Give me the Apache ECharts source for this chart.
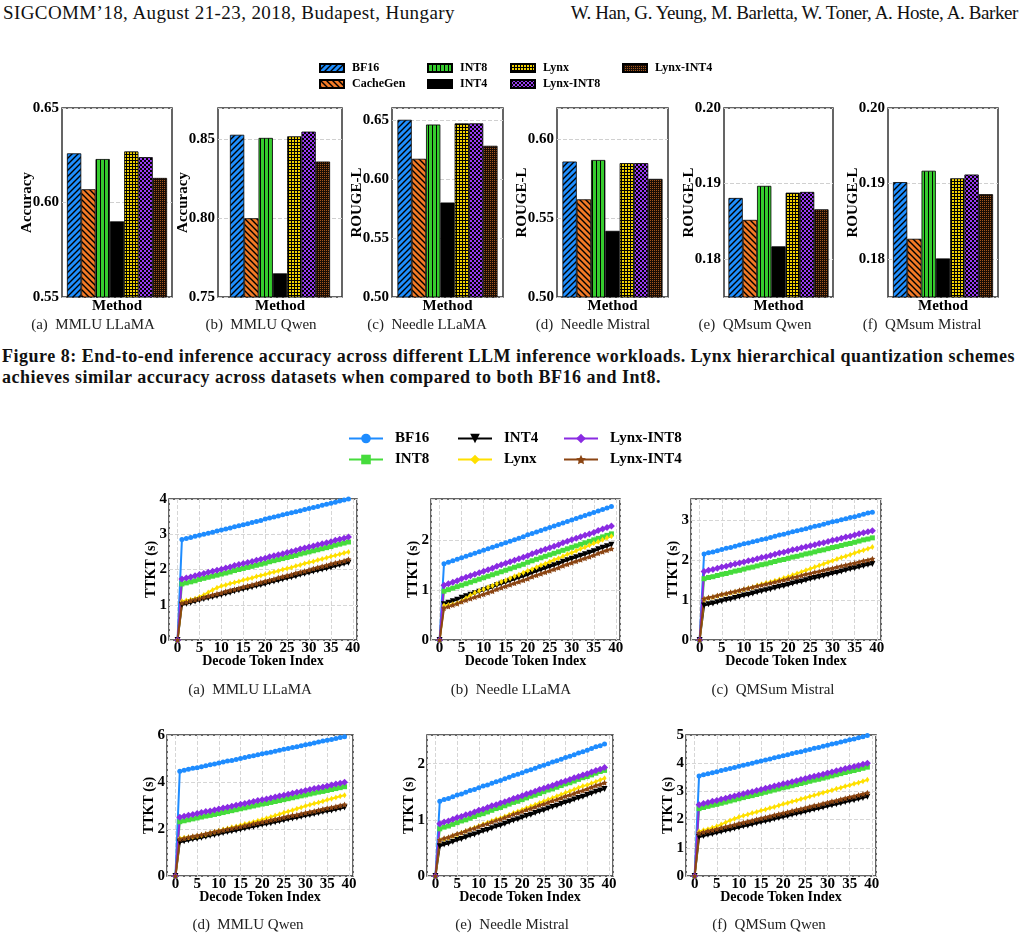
<!DOCTYPE html>
<html>
<head>
<meta charset="utf-8">
<script src="https://cdn.jsdelivr.net/npm/echarts@6/dist/echarts.min.js"></script>
<style>
body { margin: 0; background: #fff; }
#page { position: relative; width: 1022px; height: 941px; overflow: hidden; font-family: 'Liberation Serif', 'Times New Roman', serif; color: #111; }
.hdr { position: absolute; top: 2px; font-size: 19px; white-space: nowrap; }
#caption { position: absolute; left: 2px; top: 346px; font-weight: bold; font-size: 18px; letter-spacing: 0.5px; line-height: 21px; white-space: nowrap; }
#barChart { position: absolute; left: 0; top: 40px; width: 1022px; height: 300px; }
#lineChart { position: absolute; left: 0; top: 415px; width: 1022px; height: 526px; }
</style>
</head>
<body>
<div id="page">
  <div class="hdr" style="left:3px; letter-spacing:0.4px">SIGCOMM’18, August 21-23, 2018, Budapest, Hungary</div>
  <div class="hdr" style="right:4px; letter-spacing:-0.4px">W. Han, G. Yeung, M. Barletta, W. Toner, A. Hoste, A. Barker</div>
  <div id="barChart"></div>
  <div id="caption">Figure 8: End-to-end inference accuracy across different LLM inference workloads. Lynx hierarchical quantization schemes<br>achieves similar accuracy across datasets when compared to both BF16 and Int8.</div>
  <div id="lineChart"></div>
</div>
<script>
const BAR_TOP = 40, LINE_TOP = 415;
const serif = 'Liberation Serif';

// ---------- Figure 8 data (bar panels) ----------
const methods = ['BF16', 'CacheGen', 'INT8', 'INT4', 'Lynx', 'Lynx-INT8', 'Lynx-INT4'];
const accMmluLlama = [0.626, 0.607, 0.623, 0.590, 0.627, 0.624, 0.613];
const accMmluQwen = [0.853, 0.800, 0.851, 0.765, 0.852, 0.855, 0.836];
const rougeNeedleLlama = [0.650, 0.617, 0.646, 0.580, 0.647, 0.647, 0.628];
const rougeNeedleMistral = [0.586, 0.562, 0.587, 0.542, 0.585, 0.585, 0.575];
const rougeQmsumQwen = [0.1881, 0.1852, 0.1897, 0.1817, 0.1888, 0.1889, 0.1866];
const rougeQmsumMistral = [0.1902, 0.1827, 0.1917, 0.1801, 0.1907, 0.1912, 0.1886];
const barCaptions = ['(a)  MMLU LLaMA', '(b)  MMLU Qwen', '(c)  Needle LLaMA', '(d)  Needle Mistral', '(e)  QMsum Qwen', '(f)  QMsum Mistral'];

// ---------- TTKT data (line panels) ----------
const tokenIdx = [0,1,2,3,4,5,6,7,8,9,10,11,12,13,14,15,16,17,18,19,20,21,22,23,24,25,26,27,28,29,30,31,32,33,34,35,36,37,38,39];
const xTicks = [0, 5, 10, 15, 20, 25, 30, 35, 40];
const lineNames = ['BF16', 'INT8', 'INT4', 'Lynx', 'Lynx-INT8', 'Lynx-INT4'];

const mmluLlamaBF16 = [0,2.85,2.88,2.91,2.94,2.97,3.00,3.03,3.06,3.09,3.12,3.15,3.18,3.21,3.24,3.27,3.30,3.33,3.36,3.39,3.43,3.46,3.49,3.52,3.55,3.58,3.61,3.64,3.67,3.70,3.73,3.76,3.79,3.82,3.85,3.88,3.91,3.94,3.97,4.00];
const mmluLlamaINT8 = [0,1.59,1.62,1.65,1.68,1.72,1.75,1.78,1.81,1.84,1.87,1.90,1.93,1.97,2.00,2.03,2.06,2.09,2.12,2.15,2.18,2.22,2.25,2.28,2.31,2.34,2.37,2.40,2.44,2.47,2.50,2.53,2.56,2.59,2.62,2.65,2.69,2.72,2.75,2.78];
const mmluLlamaINT4 = [0,1.00,1.03,1.06,1.09,1.13,1.16,1.19,1.22,1.25,1.28,1.31,1.34,1.38,1.41,1.44,1.47,1.50,1.53,1.56,1.59,1.63,1.66,1.69,1.72,1.75,1.78,1.81,1.85,1.88,1.91,1.94,1.97,2.00,2.03,2.06,2.10,2.13,2.16,2.19];
const mmluLlamaLynx = [0,1.10,1.12,1.14,1.17,1.22,1.28,1.35,1.42,1.48,1.53,1.56,1.60,1.63,1.66,1.70,1.73,1.76,1.80,1.83,1.86,1.90,1.93,1.96,2.00,2.03,2.06,2.10,2.13,2.17,2.20,2.23,2.27,2.30,2.33,2.37,2.40,2.43,2.47,2.50];
const mmluLlamaLynxINT8 = [0,1.73,1.76,1.79,1.82,1.86,1.89,1.92,1.95,1.98,2.01,2.04,2.07,2.11,2.14,2.17,2.20,2.23,2.26,2.29,2.32,2.36,2.39,2.42,2.45,2.48,2.51,2.54,2.58,2.61,2.64,2.67,2.70,2.73,2.76,2.79,2.83,2.86,2.89,2.92];
const mmluLlamaLynxINT4 = [0,1.05,1.08,1.12,1.15,1.18,1.21,1.25,1.28,1.31,1.34,1.38,1.41,1.44,1.47,1.51,1.54,1.57,1.60,1.64,1.67,1.70,1.73,1.77,1.80,1.83,1.86,1.90,1.93,1.96,1.99,2.03,2.06,2.09,2.12,2.16,2.19,2.22,2.25,2.29];

const needleLlamaBF16 = [0,1.53,1.56,1.59,1.62,1.65,1.68,1.71,1.74,1.77,1.80,1.83,1.86,1.89,1.92,1.95,1.98,2.01,2.04,2.07,2.11,2.14,2.17,2.20,2.23,2.26,2.29,2.32,2.35,2.38,2.41,2.44,2.47,2.50,2.53,2.56,2.59,2.62,2.65,2.68];
const needleLlamaINT8 = [0,0.98,1.01,1.04,1.07,1.10,1.13,1.16,1.19,1.22,1.25,1.28,1.31,1.34,1.37,1.40,1.43,1.46,1.49,1.52,1.56,1.59,1.62,1.65,1.68,1.71,1.74,1.77,1.80,1.83,1.86,1.89,1.92,1.95,1.98,2.01,2.04,2.07,2.10,2.13];
const needleLlamaINT4 = [0,0.72,0.75,0.78,0.81,0.85,0.88,0.91,0.94,0.97,1.00,1.03,1.06,1.10,1.13,1.16,1.19,1.22,1.25,1.28,1.31,1.35,1.38,1.41,1.44,1.47,1.50,1.53,1.57,1.60,1.63,1.66,1.69,1.72,1.75,1.78,1.82,1.85,1.88,1.91];
const needleLlamaLynx = [0,0.69,0.70,0.72,0.74,0.78,0.84,0.90,0.95,0.99,1.02,1.06,1.09,1.13,1.17,1.20,1.24,1.28,1.31,1.35,1.39,1.42,1.46,1.50,1.53,1.57,1.61,1.64,1.68,1.72,1.75,1.79,1.83,1.86,1.90,1.94,1.97,2.01,2.05,2.08];
const needleLlamaLynxINT8 = [0,1.10,1.13,1.16,1.19,1.23,1.26,1.29,1.32,1.35,1.38,1.41,1.44,1.48,1.51,1.54,1.57,1.60,1.63,1.66,1.69,1.73,1.76,1.79,1.82,1.85,1.88,1.91,1.95,1.98,2.01,2.04,2.07,2.10,2.13,2.16,2.20,2.23,2.26,2.29];
const needleLlamaLynxINT4 = [0,0.64,0.67,0.70,0.73,0.77,0.80,0.83,0.86,0.89,0.92,0.95,0.98,1.02,1.05,1.08,1.11,1.14,1.17,1.20,1.23,1.27,1.30,1.33,1.36,1.39,1.42,1.45,1.49,1.52,1.55,1.58,1.61,1.64,1.67,1.70,1.74,1.77,1.80,1.83];

const qmsumMistralBF16 = [0,2.15,2.18,2.20,2.23,2.26,2.29,2.31,2.34,2.37,2.40,2.42,2.45,2.48,2.51,2.53,2.56,2.59,2.62,2.64,2.67,2.70,2.73,2.75,2.78,2.81,2.84,2.86,2.89,2.92,2.95,2.97,3.00,3.03,3.06,3.08,3.11,3.14,3.17,3.19];
const qmsumMistralINT8 = [0,1.53,1.56,1.58,1.61,1.64,1.66,1.69,1.72,1.74,1.77,1.80,1.82,1.85,1.88,1.90,1.93,1.96,1.99,2.01,2.04,2.07,2.09,2.12,2.15,2.17,2.20,2.23,2.25,2.28,2.31,2.33,2.36,2.39,2.41,2.44,2.47,2.50,2.52,2.55];
const qmsumMistralINT4 = [0,0.86,0.89,0.91,0.94,0.97,1.00,1.02,1.05,1.08,1.11,1.13,1.16,1.19,1.22,1.24,1.27,1.30,1.33,1.35,1.38,1.41,1.44,1.46,1.49,1.52,1.55,1.57,1.60,1.63,1.66,1.68,1.71,1.74,1.77,1.79,1.82,1.85,1.88,1.90];
const qmsumMistralLynx = [0,1.02,1.05,1.07,1.10,1.13,1.15,1.18,1.20,1.23,1.26,1.29,1.32,1.36,1.39,1.42,1.45,1.48,1.51,1.55,1.58,1.62,1.66,1.70,1.74,1.78,1.82,1.86,1.90,1.94,1.98,2.02,2.06,2.09,2.13,2.17,2.21,2.24,2.28,2.32];
const qmsumMistralLynxINT8 = [0,1.71,1.74,1.76,1.79,1.82,1.84,1.87,1.90,1.92,1.95,1.98,2.00,2.03,2.06,2.08,2.11,2.14,2.17,2.19,2.22,2.25,2.27,2.30,2.33,2.35,2.38,2.41,2.43,2.46,2.49,2.51,2.54,2.57,2.59,2.62,2.65,2.68,2.70,2.73];
const qmsumMistralLynxINT4 = [0,1.03,1.06,1.08,1.11,1.14,1.16,1.19,1.21,1.24,1.27,1.29,1.32,1.35,1.37,1.40,1.42,1.45,1.48,1.50,1.53,1.56,1.58,1.61,1.64,1.66,1.69,1.71,1.74,1.77,1.79,1.82,1.85,1.87,1.90,1.92,1.95,1.98,2.00,2.03];

const mmluQwenBF16 = [0,4.46,4.50,4.54,4.58,4.61,4.65,4.69,4.73,4.77,4.81,4.85,4.89,4.92,4.96,5.00,5.04,5.08,5.12,5.16,5.20,5.23,5.27,5.31,5.35,5.39,5.43,5.47,5.50,5.54,5.58,5.62,5.66,5.70,5.74,5.78,5.81,5.85,5.89,5.93];
const mmluQwenINT8 = [0,2.31,2.35,2.39,2.43,2.47,2.51,2.55,2.58,2.62,2.66,2.70,2.74,2.78,2.82,2.86,2.90,2.94,2.98,3.02,3.06,3.09,3.13,3.17,3.21,3.25,3.29,3.33,3.37,3.41,3.45,3.49,3.53,3.57,3.60,3.64,3.68,3.72,3.76,3.80];
const mmluQwenINT4 = [0,1.44,1.48,1.52,1.56,1.59,1.63,1.67,1.71,1.75,1.79,1.83,1.87,1.90,1.94,1.98,2.02,2.06,2.10,2.14,2.18,2.21,2.25,2.29,2.33,2.37,2.41,2.45,2.48,2.52,2.56,2.60,2.64,2.68,2.72,2.76,2.79,2.83,2.87,2.91];
const mmluQwenLynx = [0,1.61,1.63,1.65,1.67,1.70,1.74,1.78,1.83,1.88,1.93,1.98,2.02,2.07,2.11,2.16,2.21,2.25,2.30,2.35,2.40,2.46,2.51,2.57,2.63,2.69,2.75,2.80,2.86,2.92,2.98,3.03,3.08,3.13,3.18,3.24,3.29,3.34,3.39,3.44];
const mmluQwenLynxINT8 = [0,2.50,2.54,2.58,2.62,2.66,2.70,2.74,2.77,2.81,2.85,2.89,2.93,2.97,3.01,3.05,3.09,3.13,3.17,3.21,3.25,3.28,3.32,3.36,3.40,3.44,3.48,3.52,3.56,3.60,3.64,3.68,3.72,3.76,3.79,3.83,3.87,3.91,3.95,3.99];
const mmluQwenLynxINT4 = [0,1.57,1.61,1.65,1.69,1.72,1.76,1.80,1.84,1.88,1.92,1.96,2.00,2.03,2.07,2.11,2.15,2.19,2.23,2.27,2.31,2.34,2.38,2.42,2.46,2.50,2.54,2.58,2.61,2.65,2.69,2.73,2.77,2.81,2.85,2.89,2.92,2.96,3.00,3.04];

const needleMistralBF16 = [0,1.33,1.36,1.38,1.41,1.44,1.46,1.49,1.52,1.54,1.57,1.60,1.62,1.65,1.68,1.70,1.73,1.76,1.79,1.81,1.84,1.87,1.89,1.92,1.95,1.97,2.00,2.03,2.05,2.08,2.11,2.13,2.16,2.19,2.21,2.24,2.27,2.30,2.32,2.35];
const needleMistralINT8 = [0,0.84,0.87,0.89,0.92,0.95,0.98,1.00,1.03,1.06,1.09,1.11,1.14,1.17,1.20,1.22,1.25,1.28,1.31,1.33,1.36,1.39,1.42,1.44,1.47,1.50,1.53,1.55,1.58,1.61,1.64,1.66,1.69,1.72,1.75,1.77,1.80,1.83,1.86,1.88];
const needleMistralINT4 = [0,0.53,0.56,0.58,0.61,0.64,0.66,0.69,0.72,0.74,0.77,0.80,0.82,0.85,0.88,0.90,0.93,0.96,0.99,1.01,1.04,1.07,1.09,1.12,1.15,1.17,1.20,1.23,1.25,1.28,1.31,1.33,1.36,1.39,1.41,1.44,1.47,1.50,1.52,1.55];
const needleMistralLynx = [0,0.64,0.66,0.68,0.71,0.74,0.77,0.80,0.83,0.86,0.89,0.92,0.95,0.98,1.01,1.03,1.06,1.09,1.12,1.15,1.18,1.21,1.24,1.27,1.30,1.33,1.36,1.39,1.42,1.45,1.48,1.51,1.54,1.57,1.60,1.62,1.65,1.68,1.71,1.74];
const needleMistralLynxINT8 = [0,0.93,0.96,0.98,1.01,1.04,1.06,1.09,1.11,1.14,1.17,1.19,1.22,1.25,1.27,1.30,1.32,1.35,1.38,1.40,1.43,1.46,1.48,1.51,1.54,1.56,1.59,1.61,1.64,1.67,1.69,1.72,1.75,1.77,1.80,1.82,1.85,1.88,1.90,1.93];
const needleMistralLynxINT4 = [0,0.64,0.67,0.69,0.72,0.75,0.77,0.80,0.83,0.85,0.88,0.91,0.93,0.96,0.99,1.01,1.04,1.07,1.10,1.12,1.15,1.18,1.20,1.23,1.26,1.28,1.31,1.34,1.36,1.39,1.42,1.44,1.47,1.50,1.52,1.55,1.58,1.61,1.63,1.66];

const qmsumQwenBF16 = [0,3.55,3.59,3.63,3.66,3.70,3.74,3.78,3.81,3.85,3.89,3.93,3.96,4.00,4.04,4.08,4.11,4.15,4.19,4.23,4.26,4.30,4.34,4.38,4.41,4.45,4.49,4.53,4.56,4.60,4.64,4.68,4.71,4.75,4.79,4.83,4.86,4.90,4.94,4.98];
const qmsumQwenINT8 = [0,2.39,2.43,2.47,2.51,2.54,2.58,2.62,2.66,2.70,2.74,2.78,2.82,2.85,2.89,2.93,2.97,3.01,3.05,3.09,3.13,3.16,3.20,3.24,3.28,3.32,3.36,3.40,3.43,3.47,3.51,3.55,3.59,3.63,3.67,3.71,3.74,3.78,3.82,3.86];
const qmsumQwenINT4 = [0,1.38,1.42,1.46,1.49,1.53,1.57,1.61,1.64,1.68,1.72,1.76,1.79,1.83,1.87,1.91,1.94,1.98,2.02,2.06,2.09,2.13,2.17,2.21,2.24,2.28,2.32,2.36,2.39,2.43,2.47,2.51,2.54,2.58,2.62,2.66,2.69,2.73,2.77,2.81];
const qmsumQwenLynx = [0,1.58,1.62,1.66,1.71,1.76,1.83,1.90,1.97,2.03,2.09,2.14,2.18,2.23,2.27,2.32,2.36,2.41,2.45,2.50,2.55,2.59,2.64,2.68,2.73,2.77,2.82,2.86,2.91,2.95,3.00,3.04,3.09,3.13,3.18,3.22,3.27,3.31,3.36,3.41];
const qmsumQwenLynxINT8 = [0,2.53,2.57,2.61,2.65,2.68,2.72,2.76,2.80,2.84,2.88,2.92,2.96,2.99,3.03,3.07,3.11,3.15,3.19,3.23,3.27,3.30,3.34,3.38,3.42,3.46,3.50,3.54,3.57,3.61,3.65,3.69,3.73,3.77,3.81,3.85,3.88,3.92,3.96,4.00];
const qmsumQwenLynxINT4 = [0,1.52,1.56,1.60,1.63,1.67,1.71,1.75,1.78,1.82,1.86,1.90,1.93,1.97,2.01,2.05,2.08,2.12,2.16,2.20,2.23,2.27,2.31,2.35,2.38,2.42,2.46,2.50,2.53,2.57,2.61,2.65,2.68,2.72,2.76,2.80,2.83,2.87,2.91,2.95];

// ---------- hatch patterns for the bars ----------
function hatch(bg, fg, kind) {
    const sizes = { grid: 3, check: 4, vert: 4, dots: 2 };
    const s = sizes[kind] || 6;
    const c = document.createElement('canvas');
    c.width = s; c.height = s;
    const g = c.getContext('2d');
    g.fillStyle = bg; g.fillRect(0, 0, s, s);
    g.fillStyle = fg; g.strokeStyle = fg;
    if (kind === 'fwd' || kind === 'back') {
        g.lineWidth = 1.4;
        g.beginPath();
        if (kind === 'fwd') {
            g.moveTo(-1, 1); g.lineTo(1, -1);
            g.moveTo(0, s); g.lineTo(s, 0);
            g.moveTo(s - 1, s + 1); g.lineTo(s + 1, s - 1);
        } else {
            g.moveTo(-1, s - 1); g.lineTo(1, s + 1);
            g.moveTo(0, 0); g.lineTo(s, s);
            g.moveTo(s - 1, -1); g.lineTo(s + 1, 1);
        }
        g.stroke();
    } else if (kind === 'vert') {
        g.fillRect(0, 0, 1, s);
    } else if (kind === 'grid') {
        g.fillRect(0, 0, 1, s); g.fillRect(0, 0, s, 1);
    } else if (kind === 'check') {
        g.fillRect(0, 0, 2, 2); g.fillRect(2, 2, 2, 2);
    } else if (kind === 'dots') {
        g.fillRect(0, 0, 1, 1);
    }
    return { image: c, repeat: 'repeat' };
}
const barFills = [
    hatch('#1f8fff', '#000', 'fwd'),
    hatch('#f27a26', '#000', 'back'),
    hatch('#36cc2e', '#000', 'vert'),
    '#000000',
    hatch('#f2d200', '#000', 'grid'),
    hatch('#9a3cf0', '#000', 'check'),
    hatch('#1a0d04', '#a0561e', 'dots')
];

// ---------- bar chart ----------
const barPanels = [
    { values: accMmluLlama, yName: 'Accuracy', min: 0.55, max: 0.65, step: 0.05, left: 62, width: 110, capX: 93 },
    { values: accMmluQwen, yName: 'Accuracy', min: 0.75, max: 0.87, step: 0.05, left: 218, width: 124, capX: 261 },
    { values: rougeNeedleLlama, yName: 'ROUGE-L', min: 0.50, max: 0.66, step: 0.05, left: 392, width: 111, capX: 427 },
    { values: rougeNeedleMistral, yName: 'ROUGE-L', min: 0.50, max: 0.62, step: 0.05, left: 557, width: 111, capX: 593 },
    { values: rougeQmsumQwen, yName: 'ROUGE-L', min: 0.175, max: 0.20, step: 0.01, left: 724, width: 109, capX: 755 },
    { values: rougeQmsumMistral, yName: 'ROUGE-L', min: 0.175, max: 0.20, step: 0.01, left: 888, width: 110, capX: 922 }
];

function onStep(v, step) {
    return Math.abs(v / step - Math.round(v / step)) < 1e-6;
}

let barOption = {
    animation: false,
    grid: [], xAxis: [], yAxis: [], series: [], graphic: [],
    legend: [['BF16', 'CacheGen'], ['INT8', 'INT4'], ['Lynx', 'Lynx-INT8'], ['Lynx-INT4']].map((names, i) => ({
        data: names,
        orient: 'vertical',
        left: [314, 422, 505, 617][i],
        top: 17,
        itemWidth: 24,
        itemHeight: 8,
        itemGap: 4,
        icon: 'rect',
        selectedMode: false,
        textStyle: { fontFamily: serif, fontWeight: 'bold', fontSize: 12, color: '#000', padding: [0, 0, 0, 3] }
    }))
};

barPanels.forEach((p, i) => {
    barOption.grid.push({
        left: p.left, width: p.width, top: 108 - BAR_TOP, height: 189,
        show: true, borderColor: '#333', borderWidth: 1.5
    });
    barOption.xAxis.push({
        type: 'category', gridIndex: i, data: ['Method'],
        axisLabel: { show: false }, axisTick: { show: false }, axisLine: { show: false },
        name: 'Method', nameLocation: 'middle', nameGap: 2, nameMoveOverlap: false,
        nameTextStyle: { fontFamily: serif, fontWeight: 'bold', fontSize: 15, color: '#000' }
    });
    barOption.yAxis.push({
        type: 'value', gridIndex: i, min: p.min, max: p.max,
        // where min sits on the step the interval can be fixed; otherwise let ECharts pick it
        interval: onStep(p.min, p.step) ? p.step : undefined,
        splitNumber: 3,
        axisLine: { show: false }, axisTick: { show: false },
        axisLabel: {
            margin: 3, fontFamily: serif, fontWeight: 'bold', fontSize: 15, color: '#000',
            formatter: v => onStep(v, p.step) ? v.toFixed(2) : ''
        },
        splitLine: { lineStyle: { color: '#d0d0d0', type: [4, 2], width: 1 } },
        name: p.yName, nameLocation: 'middle', nameGap: 27, nameMoveOverlap: false,
        nameTextStyle: { fontFamily: serif, fontWeight: 'bold', fontSize: 15, color: '#000' }
    });
    methods.forEach((m, k) => {
        barOption.series.push({
            type: 'bar', name: m, xAxisIndex: i, yAxisIndex: i,
            data: [p.values[k]],
            barWidth: 14.3, barGap: '0%',
            itemStyle: { color: barFills[k], borderColor: '#000', borderWidth: 0.8 }
        });
    });
    barOption.graphic.push({
        type: 'text', x: p.capX, y: 325 - BAR_TOP,
        style: { text: barCaptions[i], font: '15px ' + serif, fill: '#222', align: 'center', verticalAlign: 'middle' }
    });
});

const barChart = echarts.init(document.getElementById('barChart'));
barChart.setOption(barOption);

// ---------- line chart ----------
const starPath = 'path://M0,-10L2.9,-4L9.5,-3.1L4.8,1.5L5.9,8.1L0,5L-5.9,8.1L-4.8,1.5L-9.5,-3.1L-2.9,-4Z';
const lineLooks = [
    { color: '#1e8cff', symbol: 'circle', size: 5 },
    { color: '#46dc3c', symbol: 'rect', size: 5 },
    { color: '#000000', symbol: 'triangle', size: 6, rotate: 180 },
    { color: '#ffe000', symbol: 'diamond', size: [4, 6] },
    { color: '#8a2be2', symbol: 'diamond', size: 7 },
    { color: '#8b4513', symbol: starPath, size: 6 }
];

const linePanels = [
    { data: [mmluLlamaBF16, mmluLlamaINT8, mmluLlamaINT4, mmluLlamaLynx, mmluLlamaLynxINT8, mmluLlamaLynxINT4], max: 4, step: 1, left: 169, width: 188, top: 499, cap: '(a)  MMLU LLaMA', capX: 250, capY: 690 },
    { data: [needleLlamaBF16, needleLlamaINT8, needleLlamaINT4, needleLlamaLynx, needleLlamaLynxINT8, needleLlamaLynxINT4], max: 2.83, step: 1, left: 431, width: 189, top: 499, cap: '(b)  Needle LLaMA', capX: 511, capY: 690 },
    { data: [qmsumMistralBF16, qmsumMistralINT8, qmsumMistralINT4, qmsumMistralLynx, qmsumMistralLynxINT8, qmsumMistralLynxINT4], max: 3.52, step: 1, left: 691, width: 190, top: 499, cap: '(c)  QMSum Mistral', capX: 773, capY: 690 },
    { data: [mmluQwenBF16, mmluQwenINT8, mmluQwenINT4, mmluQwenLynx, mmluQwenLynxINT8, mmluQwenLynxINT4], max: 6, step: 2, left: 167, width: 186, top: 735, cap: '(d)  MMLU Qwen', capX: 248, capY: 925 },
    { data: [needleMistralBF16, needleMistralINT8, needleMistralINT4, needleMistralLynx, needleMistralLynxINT8, needleMistralLynxINT4], max: 2.51, step: 1, left: 427, width: 186, top: 735, cap: '(e)  Needle Mistral', capX: 512, capY: 925 },
    { data: [qmsumQwenBF16, qmsumQwenINT8, qmsumQwenINT4, qmsumQwenLynx, qmsumQwenLynxINT8, qmsumQwenLynxINT4], max: 5, step: 1, left: 686, width: 190, top: 735, cap: '(f)  QMSum Qwen', capX: 769, capY: 925 }
];

const gridLine = { lineStyle: { color: '#d6d6d6', type: [4, 2], width: 1 } };
const tickFont = { fontFamily: serif, fontWeight: 'bold', fontSize: 15, color: '#000' };

let lineOption = {
    animation: false,
    grid: [], xAxis: [], yAxis: [], series: [], graphic: [],
    legend: [['BF16', 'INT8'], ['INT4', 'Lynx'], ['Lynx-INT8', 'Lynx-INT4']].map((names, i) => ({
        data: names,
        orient: 'vertical',
        left: [343, 452, 558][i],
        top: 11,
        itemWidth: 34,
        itemHeight: 12,
        itemGap: 6,
        selectedMode: false,
        textStyle: { fontFamily: serif, fontWeight: 'bold', fontSize: 15, color: '#000', padding: [0, 0, 0, 7] }
    }))
};

linePanels.forEach((p, i) => {
    lineOption.grid.push({
        left: p.left, width: p.width, top: p.top - LINE_TOP, height: 141,
        show: true, borderColor: '#333', borderWidth: 1.5
    });
    lineOption.xAxis.push({
        type: 'value', gridIndex: i, min: -1.95, max: 40.95, splitNumber: 8,
        axisLine: { show: false }, axisTick: { show: false },
        axisLabel: Object.assign({ margin: 1, formatter: v => xTicks.indexOf(v) >= 0 ? String(v) : '' }, tickFont),
        splitLine: gridLine,
        name: 'Decode Token Index', nameLocation: 'middle', nameGap: 14, nameMoveOverlap: false,
        nameTextStyle: { fontFamily: serif, fontWeight: 'bold', fontSize: 14, color: '#000' }
    });
    lineOption.yAxis.push({
        type: 'value', gridIndex: i, min: 0, max: p.max, interval: p.step,
        axisLine: { show: false }, axisTick: { show: false },
        axisLabel: Object.assign({ margin: 2, formatter: v => onStep(v, p.step) ? String(Math.round(v)) : '' }, tickFont),
        splitLine: gridLine,
        name: 'TTKT (s)', nameLocation: 'middle', nameGap: 11, nameMoveOverlap: false,
        nameTextStyle: { fontFamily: serif, fontWeight: 'bold', fontSize: 14, color: '#000' }
    });
    lineNames.forEach((name, k) => {
        const look = lineLooks[k];
        lineOption.series.push({
            type: 'line', name: name, xAxisIndex: i, yAxisIndex: i,
            data: tokenIdx.map((x, j) => [x, p.data[k][j]]),
            symbol: look.symbol, symbolSize: look.size, symbolRotate: look.rotate || 0,
            showSymbol: true,
            lineStyle: { color: look.color, width: 2 },
            itemStyle: { color: look.color, borderWidth: 0 }
        });
    });
    lineOption.graphic.push({
        type: 'text', x: p.capX, y: p.capY - LINE_TOP,
        style: { text: p.cap, font: '15px ' + serif, fill: '#222', align: 'center', verticalAlign: 'middle' }
    });
});

const lineChart = echarts.init(document.getElementById('lineChart'));
lineChart.setOption(lineOption);
window.addEventListener('resize', () => { barChart.resize(); lineChart.resize(); });
</script>
</body>
</html>
